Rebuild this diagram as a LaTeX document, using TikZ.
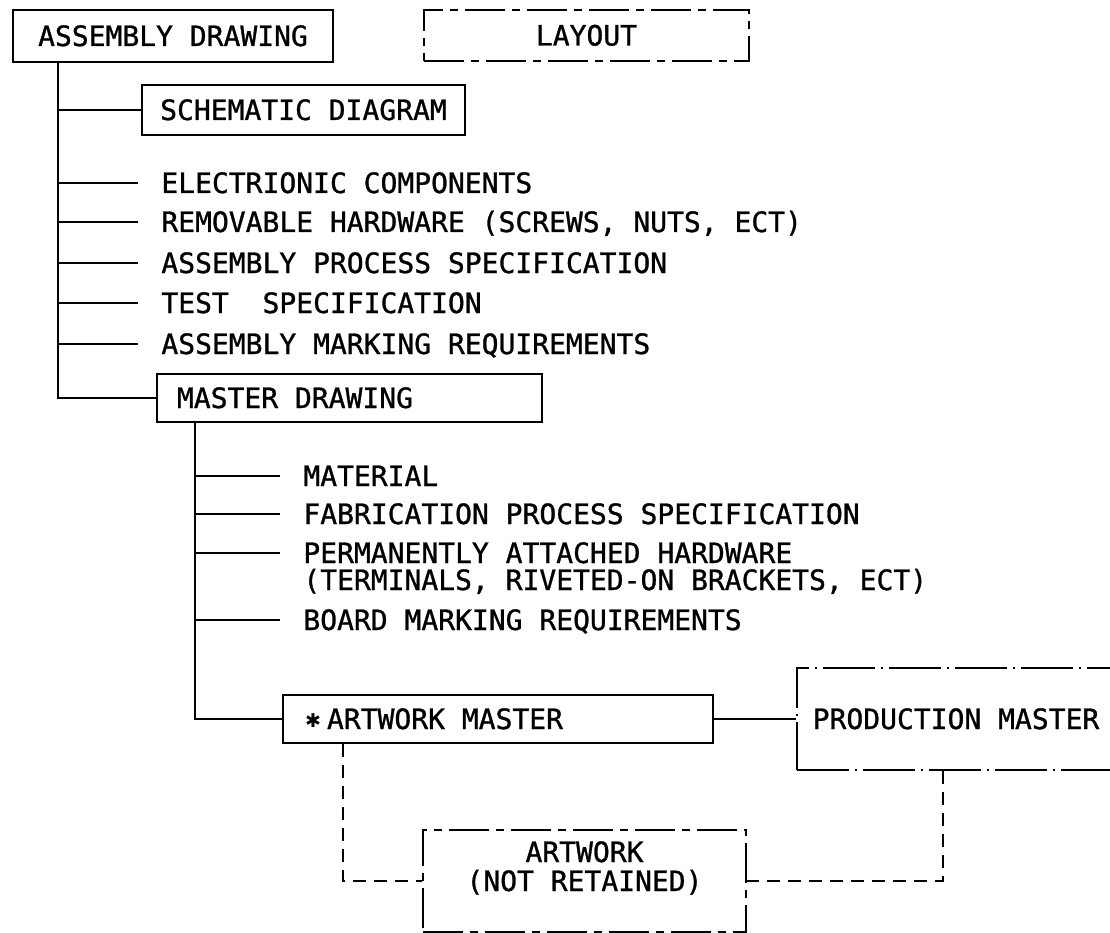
\documentclass[tikz,border=0pt]{standalone}
\usepackage{fontspec}
\newfontfamily\plotfont[FakeBold=1]{DejaVu Sans Mono}
\newfontfamily\symfont{DejaVu Sans}
\begin{document}
\begin{tikzpicture}[x=1pt,y=1pt,
  font=\plotfont\fontsize{28}{33}\selectfont,
  line width=2.8pt,
  box/.style={draw, rectangle, inner sep=0pt, text height=20pt, text depth=0pt},
  dashdash/.style={dash pattern=on 40pt off 7pt on 8pt off 7pt},
  dashdot/.style={dash pattern=on 52pt off 6pt on 2pt off 6pt},
  dconn/.style={dash pattern=on 13pt off 8pt},
  leaf/.style={anchor=west, inner xsep=22pt, inner ysep=0pt, text height=20pt, text depth=0pt}]
\useasboundingbox (0,0) rectangle (1110,-933);
\clip (0,0) rectangle (1110,-933);

% boxes
\node[box, minimum width=320pt, minimum height=52pt] (AD) at (173,-36) {ASSEMBLY DRAWING};
\node[box, dashdash, minimum width=325pt, minimum height=51pt] (LO) at (586.5,-35.5) {LAYOUT};
\node[box, minimum width=323pt, minimum height=50pt] (SCH) at (303.5,-110) {SCHEMATIC DIAGRAM};
\node[box, minimum height=48pt, inner xsep=20pt] (MD) at (349.5,-398) {\makebox[345pt][l]{MASTER DRAWING}};
\node[box, minimum height=48pt, inner xsep=22pt] (AM) at (498,-719)
  {\makebox[386pt][l]{\makebox[22pt][l]{\raisebox{2pt}{\symfont\fontsize{19}{19}\selectfont ✱}}ARTWORK MASTER}};
\node[box, dashdot, minimum width=318pt, minimum height=102pt] (PM) at (956,-719) {PRODUCTION MASTER};
\node[box, dashdash, minimum width=323pt, minimum height=102pt, align=center,
  font=\plotfont\fontsize{28}{29}\selectfont] (AW) at (584.5,-881) {ARTWORK\\(NOT RETAINED)};

% leaves of the assembly drawing
\node[leaf] (L1) at (138,-183) {ELECTRIONIC COMPONENTS};
\node[leaf] (L2) at (138,-222) {REMOVABLE HARDWARE (SCREWS, NUTS, ECT)};
\node[leaf] (L3) at (138,-263) {ASSEMBLY PROCESS SPECIFICATION};
\node[leaf] (L4) at (138,-303) {TEST\ \ SPECIFICATION};
\node[leaf] (L5) at (138,-344) {ASSEMBLY MARKING REQUIREMENTS};

% leaves of the master drawing
\node[leaf] (M1) at (280,-476) {MATERIAL};
\node[leaf] (M2) at (280,-514) {FABRICATION PROCESS SPECIFICATION};
\node[leaf] (M3) at (280,-553) {PERMANENTLY ATTACHED HARDWARE};
\node[anchor=west, inner sep=0pt, text height=20pt, text depth=0pt] (M3b) at (302,-580) {(TERMINALS, RIVETED-ON BRACKETS, ECT)};
\node[leaf] (M4) at (280,-620) {BOARD MARKING REQUIREMENTS};

% trunk coordinates
\coordinate (V1) at (58,0);
\coordinate (V2) at (195,0);
\coordinate (D1) at (343,0);
\coordinate (D2) at (943,0);

% connectors
\draw (AD.south -| V1) |- (MD.west);
\draw (SCH.west -| V1) -- (SCH.west);
\foreach \n in {L1,L2,L3,L4,L5} \draw (\n.west -| V1) -- (\n.west);
\draw (MD.south -| V2) |- (AM.west);
\foreach \n in {M1,M2,M3,M4} \draw (\n.west -| V2) -- (\n.west);
\draw (AM.east) -- (PM.west);
\draw[dconn] (AM.south -| D1) |- (AW.west);
\draw[dconn] (PM.south -| D2) |- (AW.east);
\end{tikzpicture}
\end{document}
